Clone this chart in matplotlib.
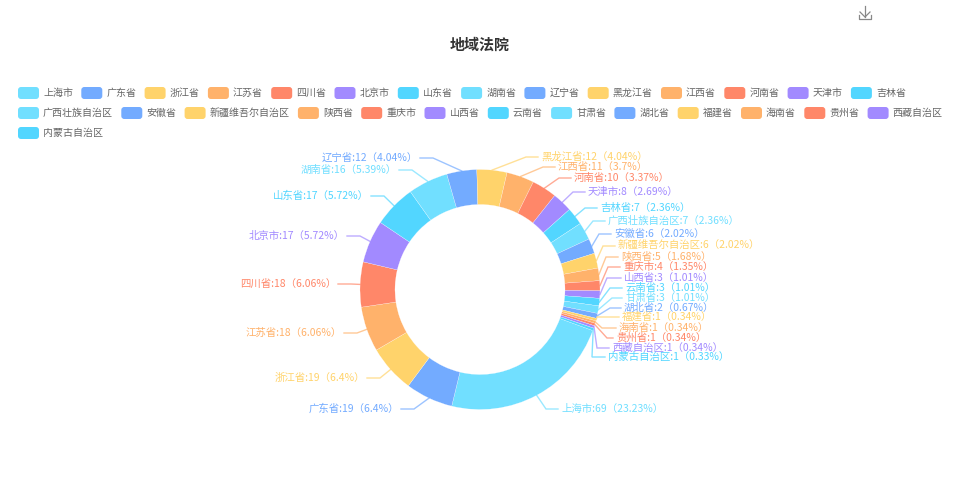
import math
import matplotlib
matplotlib.use('Agg')
import matplotlib.pyplot as plt
from matplotlib.patches import FancyBboxPatch

plt.rcParams['font.family'] = ['Noto Sans CJK SC', 'DejaVu Sans']

names = ['上海市', '广东省', '浙江省', '江苏省', '四川省', '北京市', '山东省', '湖南省', '辽宁省', '黑龙江省',
         '江西省', '河南省', '天津市', '吉林省', '广西壮族自治区', '安徽省', '新疆维吾尔自治区', '陕西省', '重庆市',
         '山西省', '云南省', '甘肃省', '湖北省', '福建省', '海南省', '贵州省', '西藏自治区', '内蒙古自治区']
values = [69, 19, 19, 18, 18, 17, 17, 16, 12, 12, 11, 10, 8, 7, 7, 6, 6, 5, 4, 3, 3, 3, 2, 1, 1, 1, 1, 1]
percents = ['23.23', '6.4', '6.4', '6.06', '6.06', '5.72', '5.72', '5.39', '4.04', '4.04', '3.7', '3.37', '2.69',
            '2.36', '2.36', '2.02', '2.02', '1.68', '1.35', '1.01', '1.01', '1.01', '0.67', '0.34', '0.34', '0.34',
            '0.34', '0.33']
palette = ['#71DFFF', '#73ABFF', '#FFD36B', '#FFB26B', '#FF8769', '#A28AFF', '#52D6FF']

# label layout, in pixels from the top left
label_x = [561, 393, 359, 336, 330, 339, 363, 391, 412, 541, 558, 574, 588, 600, 608, 614, 618, 621, 623, 624, 625,
           625, 624, 622, 619, 616, 612, 608]
label_y = [409, 409, 378, 333, 284, 236, 196, 170, 158, 157, 167, 178, 192, 208, 221, 234, 246, 257, 267, 278, 288,
           298, 308, 317, 328, 338, 348, 357]
# how far the elbow of each leader sits from its text
elbow_off = [15, 21, 21, 21, 21, 21, 21, 21, 21, 15, 15, 15, 15, 15, 15, 15, 15, 15, 15, 17, 15, 13, 14, 25, 17, 9,
             15, 16]

W, H = 959, 500
cx, cy, radius = 480, 289.5, 120

fig = plt.figure(figsize=(W / 100, H / 100), dpi=100)
ax = fig.add_axes([0, 0, 1, 1])

colors = [palette[i % len(palette)] for i in range(len(values))]
wedges, _ = ax.pie(values, colors=colors, startangle=-20, counterclock=False, center=(cx, H - cy), radius=radius,
                   wedgeprops={'width': 35, 'edgecolor': 'white', 'linewidth': 0.15})
ax.set_xlim(0, W)
ax.set_ylim(0, H)
ax.set_aspect('auto')
ax.axis('off')

# leader lines and labels
for i, wedge in enumerate(wedges):
    mid = math.radians((wedge.theta1 + wedge.theta2) / 2)
    x0 = cx + radius * math.cos(mid)
    y0 = H - cy + radius * math.sin(mid)
    y1 = H - label_y[i]
    right = label_x[i] > cx
    if right:
        line_x = [x0, label_x[i] - elbow_off[i], label_x[i] - 3]
    else:
        line_x = [x0, label_x[i] + elbow_off[i], label_x[i] + 8]
    ax.plot(line_x, [y0, y1, y1], color=colors[i], lw=1, alpha=0.7, solid_joinstyle='miter')
    text = f'{names[i]}:{values[i]}（{percents[i]}%）'
    if right:
        ax.text(label_x[i], y1, text, color=colors[i], fontsize=7.5, ha='left', va='center')
    else:
        ax.text(label_x[i] + 6, y1, text, color=colors[i], fontsize=7.5, ha='right', va='center')

# legend, flows left to right and wraps
x = 18
row_y = 93
for i, name in enumerate(names):
    pitch = 33.3 + 10 * len(name)
    if x + pitch - 8 > 945:
        x = 18
        row_y += 20
    ax.add_patch(FancyBboxPatch((x + 3, H - row_y - 3), 15, 6, boxstyle='round,pad=3,rounding_size=3',
                                fc=colors[i], ec='none'))
    ax.text(x + 25, H - row_y, name, color='#666666', fontsize=7.2, ha='left', va='center')
    x += pitch

ax.text(480, H - 45, '地域法院', color='#333333', fontsize=10.8, fontweight='bold', ha='center', va='center')

# download icon
icon = '#888888'
ax.plot([865, 865], [H - 6, H - 17], color=icon, lw=0.9)
ax.plot([860, 865, 870], [H - 12, H - 17, H - 12], color=icon, lw=0.9)
ax.plot([859, 859, 871, 871], [H - 15, H - 19, H - 19, H - 15], color=icon, lw=0.9)

fig.savefig('out.png', dpi=100)
